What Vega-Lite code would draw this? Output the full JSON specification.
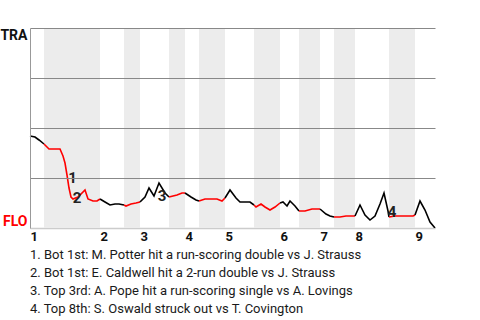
{
  "$schema": "https://vega.github.io/schema/vega-lite/v6.json",
  "width": 405,
  "height": 200,
  "autosize": {"type": "none"},
  "padding": {"left": 30, "top": 28, "right": 45, "bottom": 92},
  "background": "white",
  "config": {"font": "Roboto", "view": {"stroke": null}},
  "title": {
    "text": [
      "1. Bot 1st: M. Potter hit a run-scoring double vs J. Strauss",
      "2. Bot 1st: E. Caldwell hit a 2-run double vs J. Strauss",
      "3. Top 3rd: A. Pope hit a run-scoring single vs A. Lovings",
      "4. Top 8th: S. Oswald struck out vs T. Covington"
    ],
    "orient": "bottom",
    "anchor": "start",
    "frame": "group",
    "fontSize": 13,
    "fontWeight": "normal",
    "font": "Roboto",
    "color": "#1a1a1a",
    "lineHeight": 18,
    "offset": 6
  },
  "datasets": {
    "bands": [
      {"x0": 2.8, "x1": 14}, {"x0": 18.8, "x1": 22}, {"x0": 27.8, "x1": 31},
      {"x0": 33.8, "x1": 39}, {"x0": 44.8, "x1": 50}, {"x0": 53.8, "x1": 58},
      {"x0": 60.8, "x1": 65}, {"x0": 71.8, "x1": 77}
    ],
    "wp": [
      {"i": 0, "v": 0.46, "h": "T1", "bat": "TRA"},
      {"i": 1, "v": 0.455, "h": "T1", "bat": "TRA"},
      {"i": 1.8, "v": 0.44, "h": "T1", "bat": "TRA"},
      {"i": 2.8, "v": 0.42, "h": "T1", "bat": "TRA"},
      {"i": 2.8, "v": 0.42, "h": "B1", "bat": "FLO"},
      {"i": 3.8, "v": 0.395, "h": "B1", "bat": "FLO"},
      {"i": 6, "v": 0.395, "h": "B1", "bat": "FLO"},
      {"i": 6.6, "v": 0.36, "h": "B1", "bat": "FLO"},
      {"i": 7, "v": 0.325, "h": "B1", "bat": "FLO"},
      {"i": 7.4, "v": 0.265, "h": "B1", "bat": "FLO"},
      {"i": 7.8, "v": 0.2, "h": "B1", "bat": "FLO"},
      {"i": 8.2, "v": 0.155, "h": "B1", "bat": "FLO"},
      {"i": 8.6, "v": 0.145, "h": "B1", "bat": "FLO"},
      {"i": 9.6, "v": 0.155, "h": "B1", "bat": "FLO"},
      {"i": 11, "v": 0.19, "h": "B1", "bat": "FLO"},
      {"i": 11.6, "v": 0.145, "h": "B1", "bat": "FLO"},
      {"i": 12.6, "v": 0.135, "h": "B1", "bat": "FLO"},
      {"i": 13.4, "v": 0.135, "h": "B1", "bat": "FLO"},
      {"i": 14, "v": 0.145, "h": "B1", "bat": "FLO"},
      {"i": 14, "v": 0.145, "h": "T2", "bat": "TRA"},
      {"i": 15, "v": 0.13, "h": "T2", "bat": "TRA"},
      {"i": 16, "v": 0.115, "h": "T2", "bat": "TRA"},
      {"i": 17, "v": 0.12, "h": "T2", "bat": "TRA"},
      {"i": 17.8, "v": 0.12, "h": "T2", "bat": "TRA"},
      {"i": 18.8, "v": 0.115, "h": "T2", "bat": "TRA"},
      {"i": 18.8, "v": 0.115, "h": "B2", "bat": "FLO"},
      {"i": 19.2, "v": 0.11, "h": "B2", "bat": "FLO"},
      {"i": 20.2, "v": 0.12, "h": "B2", "bat": "FLO"},
      {"i": 21.2, "v": 0.125, "h": "B2", "bat": "FLO"},
      {"i": 22, "v": 0.13, "h": "B2", "bat": "FLO"},
      {"i": 22, "v": 0.13, "h": "T3", "bat": "TRA"},
      {"i": 23, "v": 0.155, "h": "T3", "bat": "TRA"},
      {"i": 23.8, "v": 0.2, "h": "T3", "bat": "TRA"},
      {"i": 24.8, "v": 0.16, "h": "T3", "bat": "TRA"},
      {"i": 25.8, "v": 0.225, "h": "T3", "bat": "TRA"},
      {"i": 27, "v": 0.175, "h": "T3", "bat": "TRA"},
      {"i": 27.8, "v": 0.155, "h": "T3", "bat": "TRA"},
      {"i": 27.8, "v": 0.155, "h": "B3", "bat": "FLO"},
      {"i": 29.4, "v": 0.165, "h": "B3", "bat": "FLO"},
      {"i": 30.4, "v": 0.175, "h": "B3", "bat": "FLO"},
      {"i": 31, "v": 0.175, "h": "B3", "bat": "FLO"},
      {"i": 31, "v": 0.175, "h": "T4", "bat": "TRA"},
      {"i": 32.2, "v": 0.155, "h": "T4", "bat": "TRA"},
      {"i": 33.2, "v": 0.14, "h": "T4", "bat": "TRA"},
      {"i": 33.8, "v": 0.135, "h": "T4", "bat": "TRA"},
      {"i": 33.8, "v": 0.135, "h": "B4", "bat": "FLO"},
      {"i": 35, "v": 0.145, "h": "B4", "bat": "FLO"},
      {"i": 36, "v": 0.145, "h": "B4", "bat": "FLO"},
      {"i": 37.4, "v": 0.145, "h": "B4", "bat": "FLO"},
      {"i": 38.4, "v": 0.135, "h": "B4", "bat": "FLO"},
      {"i": 39, "v": 0.15, "h": "B4", "bat": "FLO"},
      {"i": 39, "v": 0.15, "h": "T5", "bat": "TRA"},
      {"i": 40, "v": 0.19, "h": "T5", "bat": "TRA"},
      {"i": 41.2, "v": 0.15, "h": "T5", "bat": "TRA"},
      {"i": 42, "v": 0.13, "h": "T5", "bat": "TRA"},
      {"i": 44, "v": 0.13, "h": "T5", "bat": "TRA"},
      {"i": 44.8, "v": 0.115, "h": "T5", "bat": "TRA"},
      {"i": 44.8, "v": 0.115, "h": "B5", "bat": "FLO"},
      {"i": 45.2, "v": 0.105, "h": "B5", "bat": "FLO"},
      {"i": 46.2, "v": 0.12, "h": "B5", "bat": "FLO"},
      {"i": 47, "v": 0.105, "h": "B5", "bat": "FLO"},
      {"i": 48, "v": 0.09, "h": "B5", "bat": "FLO"},
      {"i": 49, "v": 0.105, "h": "B5", "bat": "FLO"},
      {"i": 50, "v": 0.125, "h": "B5", "bat": "FLO"},
      {"i": 50, "v": 0.125, "h": "T6", "bat": "TRA"},
      {"i": 50.6, "v": 0.13, "h": "T6", "bat": "TRA"},
      {"i": 51.4, "v": 0.11, "h": "T6", "bat": "TRA"},
      {"i": 52, "v": 0.135, "h": "T6", "bat": "TRA"},
      {"i": 53, "v": 0.11, "h": "T6", "bat": "TRA"},
      {"i": 53.8, "v": 0.085, "h": "T6", "bat": "TRA"},
      {"i": 53.8, "v": 0.085, "h": "B6", "bat": "FLO"},
      {"i": 55, "v": 0.085, "h": "B6", "bat": "FLO"},
      {"i": 56.4, "v": 0.095, "h": "B6", "bat": "FLO"},
      {"i": 58, "v": 0.095, "h": "B6", "bat": "FLO"},
      {"i": 58, "v": 0.095, "h": "T7", "bat": "TRA"},
      {"i": 59.2, "v": 0.07, "h": "T7", "bat": "TRA"},
      {"i": 60, "v": 0.06, "h": "T7", "bat": "TRA"},
      {"i": 60.8, "v": 0.055, "h": "T7", "bat": "TRA"},
      {"i": 60.8, "v": 0.055, "h": "B7", "bat": "FLO"},
      {"i": 62, "v": 0.055, "h": "B7", "bat": "FLO"},
      {"i": 63.2, "v": 0.06, "h": "B7", "bat": "FLO"},
      {"i": 65, "v": 0.06, "h": "B7", "bat": "FLO"},
      {"i": 65, "v": 0.06, "h": "T8", "bat": "TRA"},
      {"i": 66, "v": 0.115, "h": "T8", "bat": "TRA"},
      {"i": 67, "v": 0.065, "h": "T8", "bat": "TRA"},
      {"i": 68, "v": 0.04, "h": "T8", "bat": "TRA"},
      {"i": 69, "v": 0.06, "h": "T8", "bat": "TRA"},
      {"i": 70, "v": 0.12, "h": "T8", "bat": "TRA"},
      {"i": 70.8, "v": 0.175, "h": "T8", "bat": "TRA"},
      {"i": 71.6, "v": 0.085, "h": "T8", "bat": "TRA"},
      {"i": 71.8, "v": 0.055, "h": "T8", "bat": "TRA"},
      {"i": 71.8, "v": 0.055, "h": "B8", "bat": "FLO"},
      {"i": 73, "v": 0.06, "h": "B8", "bat": "FLO"},
      {"i": 75, "v": 0.06, "h": "B8", "bat": "FLO"},
      {"i": 76.6, "v": 0.06, "h": "B8", "bat": "FLO"},
      {"i": 77, "v": 0.065, "h": "B8", "bat": "FLO"},
      {"i": 77, "v": 0.065, "h": "T9", "bat": "TRA"},
      {"i": 78, "v": 0.135, "h": "T9", "bat": "TRA"},
      {"i": 79, "v": 0.09, "h": "T9", "bat": "TRA"},
      {"i": 80, "v": 0.03, "h": "T9", "bat": "TRA"},
      {"i": 81, "v": 0, "h": "T9", "bat": "TRA"}
    ],
    "notes": [
      {"i": 8.5, "v": 0.252, "n": "1"},
      {"i": 9.4, "v": 0.152, "n": "2"},
      {"i": 26.4, "v": 0.162, "n": "3"},
      {"i": 72.4, "v": 0.08, "n": "4"}
    ]
  },
  "layer": [
    {
      "data": {"name": "bands"},
      "mark": {"type": "rect", "color": "#ececec"},
      "encoding": {
        "x": {
          "field": "x0", "type": "quantitative",
          "scale": {"domain": [0, 81], "nice": false, "zero": false},
          "axis": {
            "values": [0, 14, 22, 31, 39, 50, 58, 65, 77],
            "labelExpr": "indexof([0,14,22,31,39,50,58,65,77], datum.value) + 1",
            "labelAlign": "left",
            "labelFontWeight": "bold",
            "labelFontSize": 13,
            "labelColor": "#111111",
            "labelPadding": 2,
            "ticks": false,
            "grid": false,
            "domainColor": "#cccccc",
            "domainWidth": 1.5,
            "title": null
          }
        },
        "x2": {"field": "x1"}
      }
    },
    {
      "data": {"name": "wp"},
      "mark": {"type": "line", "strokeWidth": 1.6, "interpolate": "linear"},
      "encoding": {
        "x": {"field": "i", "type": "quantitative"},
        "y": {
          "field": "v", "type": "quantitative",
          "scale": {"domain": [0, 1], "nice": false},
          "axis": {
            "values": [0, 0.25, 0.5, 0.75, 1],
            "labelExpr": "datum.value == 1 ? 'TRA' : (datum.value == 0 ? 'FLO' : '')",
            "labelColor": {"condition": {"test": "datum.value == 0", "value": "#ff0000"}, "value": "#111111"},
            "labelFontWeight": "bold",
            "labelFontSize": 14,
            "labelFlush": true,
            "labelOverlap": false,
            "labelPadding": 3,
            "ticks": false,
            "grid": true,
            "gridColor": {"condition": {"test": "datum.value == 0", "value": "#cccccc"}, "value": "#888888"},
            "gridWidth": 1,
            "domainColor": "#999999",
            "title": null,
            "zindex": 1
          }
        },
        "detail": {"field": "h"},
        "color": {
          "field": "bat", "type": "nominal",
          "scale": {"domain": ["TRA", "FLO"], "range": ["#000000", "#ff0000"]},
          "legend": null
        }
      }
    },
    {
      "data": {"name": "notes"},
      "mark": {"type": "text", "fontSize": 15, "fontWeight": "bold", "color": "#222222", "align": "center", "baseline": "middle"},
      "encoding": {
        "x": {"field": "i", "type": "quantitative"},
        "y": {"field": "v", "type": "quantitative"},
        "text": {"field": "n"}
      }
    }
  ]
}
